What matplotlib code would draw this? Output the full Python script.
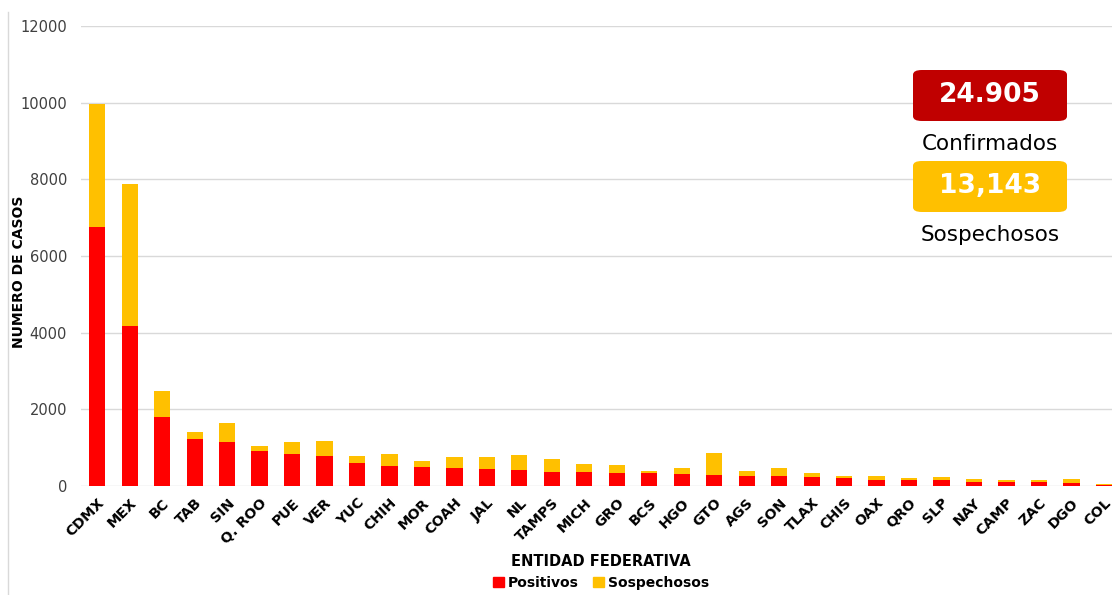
import matplotlib
matplotlib.use("Agg")
import matplotlib.pyplot as plt
import numpy as np
from matplotlib.patches import FancyBboxPatch, Patch
from matplotlib.lines import Line2D

# Datos
estados = ['CDMX', 'MEX', 'BC', 'TAB', 'SIN', 'Q. ROO', 'PUE', 'VER', 'YUC', 'CHIH',
           'MOR', 'COAH', 'JAL', 'NL', 'TAMPS', 'MICH', 'GRO', 'BCS', 'HGO', 'GTO',
           'AGS', 'SON', 'TLAX', 'CHIS', 'OAX', 'QRO', 'SLP', 'NAY', 'CAMP', 'ZAC',
           'DGO', 'COL']
positivos = [6760, 4175, 1795, 1225, 1150, 915, 835, 785, 600, 520,
             485, 460, 435, 425, 375, 365, 350, 330, 315, 295,
             270, 270, 245, 215, 165, 165, 150, 115, 115, 105,
             70, 20]
sospechosos = [3210, 3700, 690, 180, 500, 140, 310, 380, 190, 320,
               180, 295, 310, 385, 320, 210, 200, 60, 165, 555,
               120, 210, 85, 45, 95, 45, 95, 78, 44, 53,
               121, 35]
total_confirmados = '24.905'
total_sospechosos = '13,143'

rojo = '#FF0000'
amarillo = '#FFC000'

plt.rcParams['font.family'] = ['DejaVu Sans']

fig = plt.figure(figsize=(11.12, 5.95), dpi=100)
ax = fig.add_axes([81 / 1112, 1 - 486 / 595, 1 - 81 / 1112, 460 / 595])

x = np.arange(len(estados))
ax.bar(x, positivos, width=0.5, color=rojo, label='Positivos', zorder=3)
ax.bar(x, sospechosos, width=0.5, bottom=positivos, color=amarillo,
       label='Sospechosos', zorder=3)

ax.set_ylim(0, 12000)
ax.set_xlim(-0.5, 31.25)
ax.set_yticks(range(0, 12001, 2000))
ax.grid(axis='y', color='#D9D9D9', linewidth=1, zorder=0)
for s in ax.spines.values():
    s.set_visible(False)
ax.tick_params(axis='both', length=0)
ax.tick_params(axis='y', labelsize=10.5, labelcolor='#404040', pad=10)
ax.set_xticks(x)
ax.set_xticklabels(estados, rotation=45, ha='right', rotation_mode='anchor',
                   fontsize=10.3, fontweight='bold', color='black')
ax.tick_params(axis='x', pad=7)

fig.text(19 / 1112, 1 - 272 / 595, 'NUMERO DE CASOS', rotation=90,
         ha='center', va='center', fontsize=10, fontweight='bold')
fig.text(601 / 1112, 1 - 561 / 595, 'ENTIDAD FEDERATIVA',
         ha='center', va='center', fontsize=10.5, fontweight='bold')

handles = [Patch(color=rojo), Patch(color=amarillo)]
fig.legend(handles, ['Positivos', 'Sospechosos'], loc='center',
           bbox_to_anchor=(601 / 1112, 1 - 583 / 595), ncol=2, frameon=False,
           prop={'size': 10, 'weight': 'bold'}, handlelength=0.8,
           handleheight=0.8, handletextpad=0.3, columnspacing=1.0)

# Cuadros de totales
def cuadro(y0, color, texto, etiqueta):
    x0, w, h = 913 / 1112, 154 / 1112, 51 / 595
    caja = FancyBboxPatch((x0, 1 - y0 / 595 - h), w, h,
                          boxstyle='round,pad=0,rounding_size=0.008',
                          transform=fig.transFigure, facecolor=color,
                          edgecolor='none', zorder=5)
    fig.add_artist(caja)
    fig.text(x0 + w / 2, 1 - y0 / 595 - h / 2, texto, ha='center', va='center',
             color='white', fontsize=19, fontweight='bold', zorder=6)
    fig.text(x0 + w / 2, 1 - (y0 + 74) / 595, etiqueta, ha='center',
             va='center', color='black', fontsize=15.5, zorder=6)

cuadro(70, '#C00000', total_confirmados, 'Confirmados')
cuadro(161, amarillo, total_sospechosos, 'Sospechosos')

fig.add_artist(Line2D([8 / 1112, 8 / 1112], [0, 1 - 12 / 595],
                      transform=fig.transFigure, color='#D9D9D9', linewidth=1))

fig.savefig('out.png', dpi=100)
